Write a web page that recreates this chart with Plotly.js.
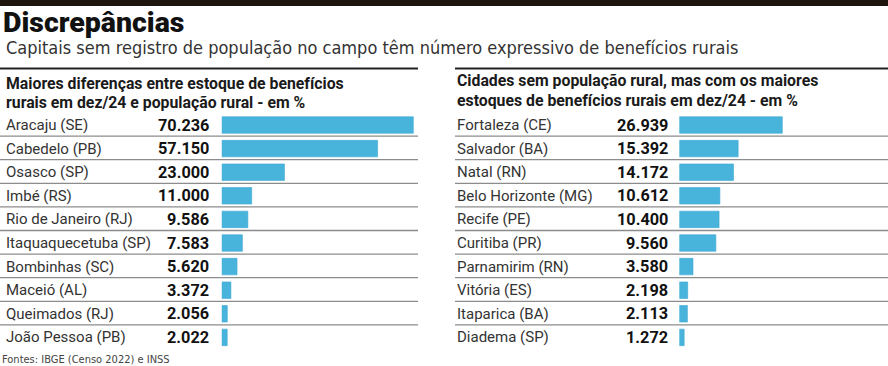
<!DOCTYPE html>
<html><head><meta charset="utf-8">
<script src="https://cdn.plot.ly/plotly-3.0.1.min.js"></script>
<style>html,body{margin:0;padding:0;background:#fff}#chart{width:888px;height:366px}</style>
</head><body><div id="chart"></div>
<script>
// ---- data ----
const leftCities = ['Aracaju (SE)','Cabedelo (PB)','Osasco (SP)','Imbé (RS)','Rio de Janeiro (RJ)','Itaquaquecetuba (SP)','Bombinhas (SC)','Maceió (AL)','Queimados (RJ)','João Pessoa (PB)'];
const leftValues = [70.236, 57.150, 23.000, 11.000, 9.586, 7.583, 5.620, 3.372, 2.056, 2.022];
const rightCities = ['Fortaleza (CE)','Salvador (BA)','Natal (RN)','Belo Horizonte (MG)','Recife (PE)','Curitiba (PR)','Parnamirim (RN)','Vitória (ES)','Itaparica (BA)','Diadema (SP)'];
const rightValues = [26.939, 15.392, 14.172, 10.612, 10.400, 9.560, 3.580, 2.198, 2.113, 1.272];
const titleText = 'Discrepâncias';
const subtitleText = 'Capitais sem registro de população no campo têm número expressivo de benefícios rurais';
const leftHeader = ['Maiores diferenças entre estoque de benefícios', 'rurais em dez/24 e população rural - em %'];
const rightHeader = ['Cidades sem população rural, mas com os maiores', 'estoques de benefícios rurais em dez/24 - em %'];
const sourceText = 'Fontes: IBGE (Censo 2022) e INSS';

// ---- layout helpers ----
const W = 888, H = 366;
const px = x => x / W;
const py = y => 1 - y / H;
const COND = "'DejaVu Sans Condensed', 'DejaVu Sans', sans-serif";
const ROBO = "Roboto, 'Liberation Sans', sans-serif";
const BAR = '#48b4dc';
const fmt = v => v.toFixed(3);

const traces = [
  {type:'bar', orientation:'h', x:leftValues, y:leftCities, xaxis:'x', yaxis:'y', width:0.7,
   marker:{color:BAR, line:{color:'#3ea8d2', width:0.6}}, hoverinfo:'skip'},
  {type:'bar', orientation:'h', x:rightValues, y:rightCities, xaxis:'x2', yaxis:'y2', width:0.7,
   marker:{color:BAR, line:{color:'#3ea8d2', width:0.6}}, hoverinfo:'skip'}
];

const yDom = [py(349.2), py(113.2)];
const annotations = [];
const txt = (text, x, y, font) => ({
  text, x, y, xref:'paper', yref:'paper', showarrow:false, xanchor:'left', yanchor:'middle', font
});

annotations.push(txt(titleText, px(1), py(23), {size:28.5, family:ROBO, color:'#111', weight:900}));
annotations.push(txt(subtitleText, px(4), py(47.5), {size:18, family:COND, color:'#333'}));
annotations.push(txt('<b>'+leftHeader[0]+'</b>', px(4), py(83), {size:15.8, family:ROBO, color:'#1a1a1a'}));
annotations.push(txt('<b>'+leftHeader[1]+'</b>', px(4), py(103), {size:15.8, family:ROBO, color:'#1a1a1a'}));
annotations.push(txt('<b>'+rightHeader[0]+'</b>', px(455), py(80.5), {size:15.8, family:ROBO, color:'#1a1a1a'}));
annotations.push(txt('<b>'+rightHeader[1]+'</b>', px(455), py(100), {size:15.8, family:ROBO, color:'#1a1a1a'}));
annotations.push(txt(sourceText, px(0), py(359), {size:11, family:COND, color:'#444'}));

leftCities.forEach((c,i) => {
  annotations.push({text:c, x:px(4), y:c, xref:'paper', yref:'y', showarrow:false, xanchor:'left', yanchor:'middle',
    font:{size:15, family:ROBO, color:'#333'}});
  annotations.push({text:'<b>'+fmt(leftValues[i])+'</b>', x:px(211), y:c, xref:'paper', yref:'y', showarrow:false, xanchor:'right', yanchor:'middle',
    font:{size:16.3, family:ROBO, color:'#111'}});
});
rightCities.forEach((c,i) => {
  annotations.push({text:c, x:px(455), y:c, xref:'paper', yref:'y2', showarrow:false, xanchor:'left', yanchor:'middle',
    font:{size:15, family:ROBO, color:'#333'}});
  annotations.push({text:'<b>'+fmt(rightValues[i])+'</b>', x:px(670), y:c, xref:'paper', yref:'y2', showarrow:false, xanchor:'right', yanchor:'middle',
    font:{size:16.3, family:ROBO, color:'#111'}});
});

const shapes = [
  {type:'rect', xref:'paper', yref:'paper', x0:0, x1:1, y0:py(6), y1:1, fillcolor:'#1e150e', line:{width:0}},
  {type:'line', xref:'paper', yref:'paper', x0:0, x1:px(418), y0:py(68.5), y1:py(68.5), line:{color:'#222', width:2}},
  {type:'line', xref:'paper', yref:'paper', x0:px(455), x1:1, y0:py(68.5), y1:py(68.5), line:{color:'#222', width:2}}
];
for (let i = 0; i < leftCities.length - 1; i++) {
  shapes.push({type:'line', xref:'paper', yref:'y', x0:0, x1:px(418), y0:i+0.47, y1:i+0.47, line:{color:'#8c8c8c', width:1.3}});
}
for (let i = 0; i < rightCities.length - 1; i++) {
  shapes.push({type:'line', xref:'paper', yref:'y2', x0:px(455), x1:1, y0:i+0.47, y1:i+0.47, line:{color:'#8c8c8c', width:1.3}});
}

const layout = {
  width:W, height:H, margin:{l:0, r:0, t:0, b:0},
  paper_bgcolor:'#ffffff', plot_bgcolor:'rgba(0,0,0,0)',
  showlegend:false, bargap:0.3,
  xaxis:{domain:[px(221.7), px(418)], range:[0, 71.96], visible:false, fixedrange:true},
  yaxis:{domain:yDom, type:'category', range:[9.5, -0.5], visible:false, fixedrange:true},
  xaxis2:{domain:[px(679.3), 1], range:[0, 54.58], visible:false, anchor:'y2', fixedrange:true},
  yaxis2:{domain:yDom, type:'category', range:[9.5, -0.5], visible:false, anchor:'x2', fixedrange:true},
  annotations, shapes
};
Plotly.newPlot('chart', traces, layout, {displayModeBar:false, staticPlot:true});
</script></body></html>
